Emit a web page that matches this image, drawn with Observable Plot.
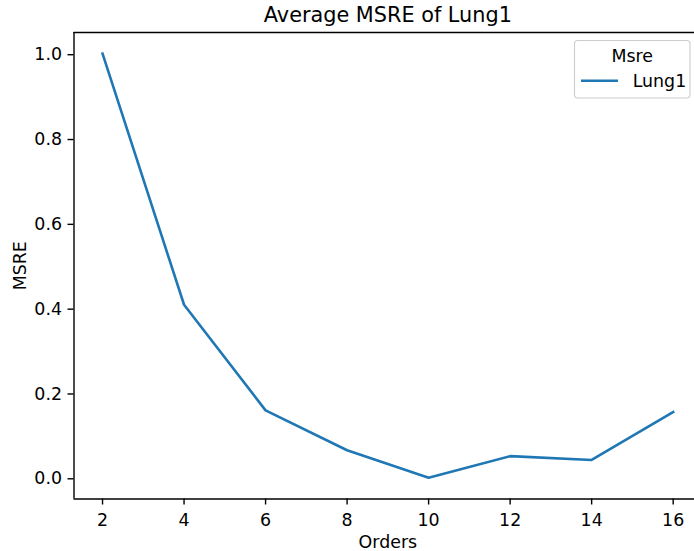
<!DOCTYPE html>
<html>
<head>
<meta charset="utf-8">
<script src="https://cdn.jsdelivr.net/npm/d3@7"></script>
<script src="https://cdn.jsdelivr.net/npm/@observablehq/plot@0.6"></script>
<style>
  html, body { margin: 0; padding: 0; background: white; overflow: hidden; }
</style>
</head>
<body>
<div id="chart"></div>
<script>
const orders = [2, 4, 6, 8, 10, 12, 14, 16];
const msre = [1.0, 0.408, 0.159, 0.065, 0.0, 0.051, 0.042, 0.155];
const xTicks = [2, 4, 6, 8, 10, 12, 14, 16];
const yTicks = [0.0, 0.2, 0.4, 0.6, 0.8, 1.0];
const titleText = "Average MSRE of Lung1";
const xLabel = "Orders";
const yLabel = "MSRE";
const legendTitle = "Msre";
const seriesName = "Lung1";
const lineColor = "#1f77b4";

const data = orders.map((o, i) => ({order: o, msre: msre[i]}));

const W = 694, H = 551;
const mL = 73.5, mR = -7.2, mT = 32, mB = 52.5;
const xDom = [1.3, 16.7], yDom = [-0.05, 1.05];
const font = "DejaVu Sans, sans-serif";

const svg = Plot.plot({
  width: W,
  height: H,
  marginLeft: mL,
  marginRight: mR,
  marginTop: mT,
  marginBottom: mB,
  style: {fontFamily: font, fontSize: "17.4px", color: "black", background: "white"},
  x: {domain: xDom, range: [mL, W - mR]},
  y: {domain: yDom, range: [H - mB, mT]},
  marks: [
    Plot.line(data, {x: "order", y: "msre", stroke: lineColor, strokeWidth: 2.6, strokeLinejoin: "round", strokeLinecap: "square"}),
    Plot.ruleX([xDom[0]], {stroke: "black", strokeWidth: 1.4}),
    Plot.ruleY([yDom[0]], {stroke: "black", strokeWidth: 1.4}),
    Plot.ruleY([yDom[1]], {stroke: "black", strokeWidth: 1.4}),
    Plot.axisX({anchor: "bottom", ticks: xTicks, tickSize: 6, tickPadding: 9, label: null, strokeWidth: 1.4, fontSize: 17.4}),
    Plot.axisY({anchor: "left", ticks: yTicks, tickSize: 6, tickPadding: 6, label: null, tickFormat: d3.format(".1f"), strokeWidth: 1.4, fontSize: 17.4, dy: 1}),
    Plot.text([titleText], {frameAnchor: "top", lineAnchor: "middle", textAnchor: "middle", dy: -16.9, fontSize: 20.8, fill: "black"}),
    Plot.text([xLabel], {frameAnchor: "bottom", lineAnchor: "middle", textAnchor: "middle", dy: 43, fontSize: 17.4, fill: "black"}),
    Plot.text([yLabel], {frameAnchor: "left", lineAnchor: "middle", textAnchor: "middle", dx: -53.5, rotate: -90, fontSize: 17.4, fill: "black"})
  ]
});

// legend
const g = d3.select(svg).append("g").attr("font-family", font).attr("font-size", 17.4);
g.append("rect")
  .attr("x", 574.5).attr("y", 40.5).attr("width", 115.5).attr("height", 57.5)
  .attr("rx", 3.5).attr("ry", 3.5)
  .attr("fill", "white").attr("fill-opacity", 0.8)
  .attr("stroke", "#cccccc").attr("stroke-width", 1.1);
g.append("text").attr("x", 632.3).attr("y", 61.7).attr("text-anchor", "middle").attr("fill", "black").text(legendTitle);
g.append("line").attr("x1", 581).attr("x2", 618).attr("y1", 80.7).attr("y2", 80.7)
  .attr("stroke", lineColor).attr("stroke-width", 2.6);
g.append("text").attr("x", 632.7).attr("y", 86.7).attr("text-anchor", "start").attr("fill", "black").text(seriesName);

document.getElementById("chart").appendChild(svg);
</script>
</body>
</html>
